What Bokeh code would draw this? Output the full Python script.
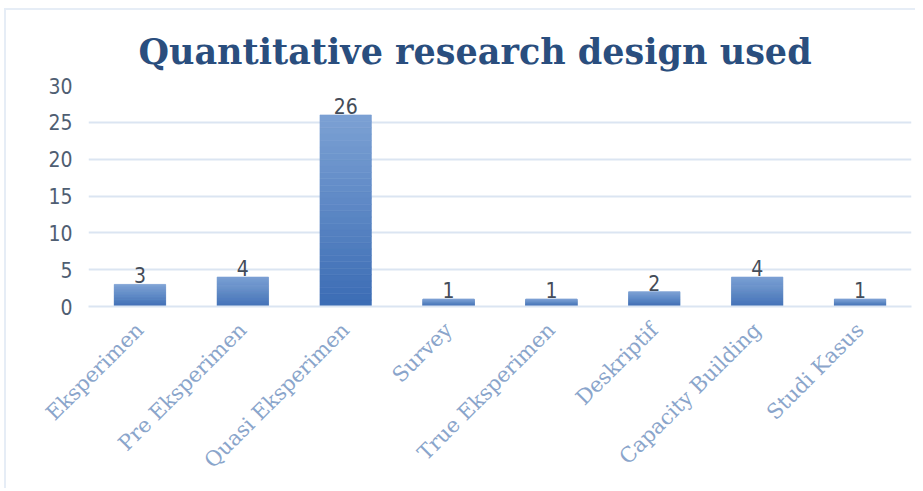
import math
from bokeh.plotting import figure
from bokeh.models import ColumnDataSource, FixedTicker, Title
from bokeh.core.properties import value
from bokeh.embed import file_html
from bokeh.resources import INLINE

categories = ["Eksperimen", "Pre Eksperimen", "Quasi Eksperimen", "Survey",
              "True Eksperimen", "Deskriptif", "Capacity Building", "Studi Kasus"]
counts = [3, 4, 26, 1, 1, 2, 4, 1]
y_ticks = [0, 5, 10, 15, 20, 25, 30]
title_text = "Quantitative research design used"

# gradient helpers (bottom dark -> top light)
bottom_rgb = (59, 108, 180)
top_rgb = (124, 161, 212)
N = 30

def mix(t):
    r = [round(b + (tp - b) * t) for b, tp in zip(bottom_rgb, top_rgb)]
    return "#%02x%02x%02x" % tuple(r)

xs, bots, tops, cols = [], [], [], []
for c, v in zip(categories, counts):
    for i in range(N):
        xs.append(c)
        bots.append(v * i / N)
        tops.append(v * (i + 1) / N)
        cols.append(mix((i + 0.5) / N))

NUM_FONT = "DejaVu Sans Condensed, Roboto, sans-serif"

p = figure(width=911, height=480, x_range=categories, y_range=(0, 30),
           output_backend="svg", toolbar_location=None,
           min_border_left=82, min_border_right=6, min_border_top=75,
           min_border_bottom=184, background_fill_color="white",
           border_fill_color="white")
p.styles = {"border-top": "2px solid #e6edf6", "border-left": "2px solid #e6edf6",
            "margin-left": "4px", "margin-top": "8px"}

t = Title(text=title_text, align="left", text_font="DejaVu Serif",
          text_font_size="35px", text_font_style="bold", text_color="#2a4e7e",
          standoff=28, offset=50)
p.add_layout(t, "above")

src = ColumnDataSource(dict(x=xs, bottom=bots, top=tops, color=cols))
p.vbar(x="x", bottom="bottom", top="top", width=0.5, source=src,
       fill_color="color", line_color="color", line_width=0.6)

lab = ColumnDataSource(dict(x=categories, y=counts, t=[str(v) for v in counts]))
p.text(x="x", y="y", text="t", source=lab, text_align="center",
       text_baseline="bottom", y_offset=-1, text_font=value(NUM_FONT),
       text_font_size="21px", text_color="#444c58")

p.outline_line_color = None
p.xgrid.grid_line_color = None
p.ygrid.grid_line_color = "#dbe5f2"
p.ygrid.grid_line_width = 2
p.yaxis.ticker = FixedTicker(ticks=y_ticks)
p.ygrid.ticker = FixedTicker(ticks=y_ticks)
p.yaxis.axis_line_color = None
p.yaxis.major_tick_line_color = None
p.yaxis.minor_tick_line_color = None
p.yaxis.major_label_standoff = 10
p.yaxis.major_label_text_font = NUM_FONT
p.yaxis.major_label_text_font_size = "21px"
p.yaxis.major_label_text_color = "#4f5e72"

p.xaxis.axis_line_color = "#dbe5f2"
p.xaxis.axis_line_width = 2
p.xaxis.major_tick_line_color = None
p.xaxis.minor_tick_line_color = None
p.xaxis.major_label_orientation = math.pi / 4
p.xaxis.major_label_standoff = 14
p.xaxis.major_label_text_font = "DejaVu Serif"
p.xaxis.major_label_text_font_size = "21px"
p.xaxis.major_label_text_color = "#8aa5cb"
p.x_range.range_padding = 0.0

open("out.html", "w").write(file_html(p, INLINE))
